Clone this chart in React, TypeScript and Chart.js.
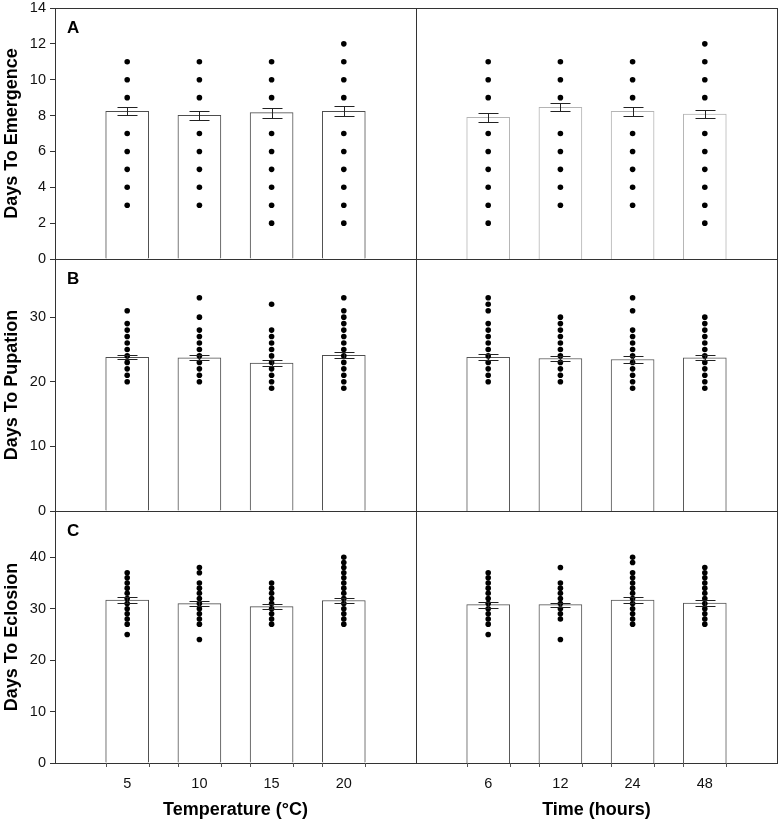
import React, { useEffect, useRef } from 'react';
import { Chart, registerables } from 'chart.js';

Chart.register(...registerables);

const FONT = '"Liberation Sans", Arial, Helvetica, sans-serif';

// Treatment levels
const temperatureLabels = ['5', '10', '15', '20'];
const timeLabels = ['6', '12', '24', '48'];

// A: days to emergence (means, standard errors, individual observations)
const emergenceTempMeans = [8.24, 8.01, 8.16, 8.24];
const emergenceTempSems = [0.23, 0.25, 0.27, 0.27];
const emergenceTempDots = [
  [3, 4, 5, 6, 7, 9, 10, 11],
  [3, 4, 5, 6, 7, 9, 10, 11],
  [2, 3, 4, 5, 6, 7, 9, 10, 11],
  [2, 3, 4, 5, 6, 7, 9, 10, 11, 12],
];
const emergenceTimeMeans = [7.9, 8.46, 8.24, 8.09];
const emergenceTimeSems = [0.26, 0.22, 0.25, 0.23];
const emergenceTimeDots = [
  [2, 3, 4, 5, 6, 7, 9, 10, 11],
  [3, 4, 5, 6, 7, 9, 10, 11],
  [3, 4, 5, 6, 7, 9, 10, 11],
  [2, 3, 4, 5, 6, 7, 9, 10, 11, 12],
];

// B: days to pupation
const pupationTempMeans = [23.8, 23.7, 22.9, 24.1];
const pupationTempSems = [0.35, 0.38, 0.4, 0.45];
const pupationTempDots = [
  [20, 21, 22, 23, 24, 25, 26, 27, 28, 29, 31],
  [20, 21, 22, 23, 24, 25, 26, 27, 28, 30, 33],
  [19, 20, 21, 22, 23, 24, 25, 26, 27, 28, 32],
  [19, 20, 21, 22, 23, 24, 25, 26, 27, 28, 29, 30, 31, 33],
];
const pupationTimeMeans = [23.8, 23.6, 23.45, 23.7];
const pupationTimeSems = [0.45, 0.33, 0.5, 0.38];
const pupationTimeDots = [
  [20, 21, 22, 23, 24, 25, 26, 27, 28, 29, 31, 32, 33],
  [20, 21, 22, 23, 24, 25, 26, 27, 28, 29, 30],
  [19, 20, 21, 22, 23, 24, 25, 26, 27, 28, 31, 33],
  [19, 20, 21, 22, 23, 24, 25, 26, 27, 28, 29, 30],
];

// C: days to eclosion
const eclosionTempMeans = [31.7, 31.0, 30.4, 31.6];
const eclosionTempSems = [0.5, 0.55, 0.45, 0.5];
const eclosionTempDots = [
  [25, 27, 28, 29, 30, 31, 32, 33, 34, 35, 36, 37],
  [24, 27, 28, 29, 30, 31, 32, 33, 34, 35, 37, 38],
  [27, 28, 29, 30, 31, 32, 33, 34, 35],
  [27, 28, 29, 30, 31, 32, 33, 34, 35, 36, 37, 38, 39, 40],
];
const eclosionTimeMeans = [30.8, 30.8, 31.7, 31.1];
const eclosionTimeSems = [0.6, 0.4, 0.55, 0.55];
const eclosionTimeDots = [
  [25, 27, 28, 29, 30, 31, 32, 33, 34, 35, 36, 37],
  [24, 28, 29, 30, 31, 32, 33, 34, 35, 38],
  [27, 28, 29, 30, 31, 32, 33, 34, 35, 36, 37, 39, 40],
  [27, 28, 29, 30, 31, 32, 33, 34, 35, 36, 37, 38],
];

// Axis ranges and titles
const yMaxByRow = [14, 39, 49];
const yStepByRow = [2, 10, 10];
const yTitles = ['Days To Emergence', 'Days To Pupation', 'Days To Eclosion'];
const panelLetters = ['A', 'B', 'C'];
const xTitles = ['Temperature (°C)', 'Time (hours)'];

type PanelSpec = {
  row: number;
  col: number;
  labels: string[];
  means: number[];
  sems: number[];
  dots: number[][];
  barBorder: string;
};

const panels: PanelSpec[] = [
  { row: 0, col: 0, labels: temperatureLabels, means: emergenceTempMeans, sems: emergenceTempSems, dots: emergenceTempDots, barBorder: '#4d4d4d' },
  { row: 0, col: 1, labels: timeLabels, means: emergenceTimeMeans, sems: emergenceTimeSems, dots: emergenceTimeDots, barBorder: '#b4b4b4' },
  { row: 1, col: 0, labels: temperatureLabels, means: pupationTempMeans, sems: pupationTempSems, dots: pupationTempDots, barBorder: '#4d4d4d' },
  { row: 1, col: 1, labels: timeLabels, means: pupationTimeMeans, sems: pupationTimeSems, dots: pupationTimeDots, barBorder: '#555555' },
  { row: 2, col: 0, labels: temperatureLabels, means: eclosionTempMeans, sems: eclosionTempSems, dots: eclosionTempDots, barBorder: '#4d4d4d' },
  { row: 2, col: 1, labels: timeLabels, means: eclosionTimeMeans, sems: eclosionTimeSems, dots: eclosionTimeDots, barBorder: '#555555' },
];

// Canvas placement per column / row
const colBoxes = [
  { left: 0, width: 420, padLeft: 0, padRight: 4 },
  { left: 410, width: 370, padLeft: 6, padRight: 3 },
];
const rowBoxes = [
  { top: 0, height: 268, padTop: 8, padBottom: 9 },
  { top: 250, height: 270, padTop: 9, padBottom: 9 },
  { top: 502, height: 320, padTop: 9, padBottom: 0 },
];

const framePlugin = {
  id: 'panelFrame',
  afterDraw(chart: any) {
    const { ctx, chartArea: a } = chart;
    ctx.save();
    ctx.strokeStyle = '#333';
    ctx.lineWidth = 1;
    const l = Math.round(a.left) + 0.5;
    const t = Math.round(a.top) + 0.5;
    ctx.strokeRect(l, t, Math.round(a.right) - Math.round(a.left), Math.round(a.bottom) - Math.round(a.top));
    ctx.restore();
  },
};

function makeErrorBarPlugin(means: number[], sems: number[]) {
  return {
    id: 'semBars',
    afterDatasetsDraw(chart: any) {
      const { ctx, scales } = chart;
      const xs = scales.x;
      const ys = scales.y;
      ctx.save();
      ctx.strokeStyle = '#222';
      ctx.lineWidth = 1;
      means.forEach((m, i) => {
        const x = Math.round(xs.getPixelForValue(i + 1)) + 0.5;
        const yHi = Math.round(ys.getPixelForValue(m + sems[i])) + 0.5;
        const yLo = Math.round(ys.getPixelForValue(m - sems[i])) + 0.5;
        ctx.beginPath();
        ctx.moveTo(x, yHi);
        ctx.lineTo(x, yLo);
        ctx.moveTo(x - 10, yHi);
        ctx.lineTo(x + 10, yHi);
        ctx.moveTo(x - 10, yLo);
        ctx.lineTo(x + 10, yLo);
        ctx.stroke();
      });
      ctx.restore();
    },
  };
}

function makeLetterPlugin(letter: string | null) {
  return {
    id: 'panelLetter',
    afterDraw(chart: any) {
      if (!letter) return;
      const { ctx, chartArea: a } = chart;
      ctx.save();
      ctx.fillStyle = '#000';
      ctx.font = `bold 17px ${FONT}`;
      ctx.textBaseline = 'top';
      ctx.textAlign = 'left';
      ctx.fillText(letter, a.left + 12, a.top + 12);
      ctx.restore();
    },
  };
}

// Short marks below the baseline at each bar edge
const barEdgeTicks = {
  id: 'barEdgeTicks',
  afterDraw(chart: any) {
    const meta = chart.getDatasetMeta(1);
    const { ctx, chartArea: a } = chart;
    ctx.save();
    ctx.strokeStyle = '#555';
    ctx.lineWidth = 1;
    meta.data.forEach((el: any) => {
      const half = el.width / 2;
      [el.x - half, el.x + half].forEach((ex) => {
        const x = Math.round(ex) + 0.5;
        ctx.beginPath();
        ctx.moveTo(x, a.bottom);
        ctx.lineTo(x, a.bottom + 4);
        ctx.stroke();
      });
    });
    ctx.restore();
  },
};

function Panel({ spec }: { spec: PanelSpec }) {
  const ref = useRef<HTMLCanvasElement>(null);
  const cb = colBoxes[spec.col];
  const rb = rowBoxes[spec.row];

  useEffect(() => {
    if (!ref.current) return;
    const isLeft = spec.col === 0;
    const isBottom = spec.row === 2;

    const dotPoints: { x: number; y: number }[] = [];
    spec.dots.forEach((vals, i) => vals.forEach((v) => dotPoints.push({ x: i + 1, y: v })));

    const plugins: any[] = [framePlugin, makeErrorBarPlugin(spec.means, spec.sems), makeLetterPlugin(isLeft ? panelLetters[spec.row] : null)];
    if (isBottom) plugins.push(barEdgeTicks);

    const chart = new Chart(ref.current, {
      type: 'bar',
      data: {
        datasets: [
          {
            type: 'scatter',
            data: dotPoints,
            backgroundColor: '#000',
            borderWidth: 0,
            pointRadius: 2.8,
            pointHoverRadius: 2.8,
            order: 0,
          } as any,
          {
            type: 'bar',
            data: spec.means.map((m, i) => ({ x: i + 1, y: m })),
            backgroundColor: '#ffffff',
            borderColor: spec.barBorder,
            borderWidth: 1,
            barThickness: 43,
            order: 1,
          } as any,
        ],
      },
      options: {
        responsive: false,
        animation: false,
        devicePixelRatio: 1,
        events: [],
        layout: {
          padding: { left: cb.padLeft, right: cb.padRight, top: rb.padTop, bottom: rb.padBottom },
        },
        plugins: {
          legend: { display: false },
          tooltip: { enabled: false },
        },
        scales: {
          x: {
            type: 'linear',
            min: 0,
            max: 5,
            offset: false,
            display: isBottom,
            grid: { display: false, drawTicks: false, offset: false },
            border: { display: false },
            ticks: {
              stepSize: 1,
              padding: 12,
              autoSkip: false,
              maxRotation: 0,
              color: '#111',
              font: { family: FONT, size: 14.5 },
              callback: (v: any) => spec.labels[Number(v) - 1] ?? '',
            },
            title: {
              display: isBottom,
              text: xTitles[spec.col],
              color: '#000',
              font: { family: FONT, size: 18, weight: 'bold' },
              padding: { top: 0, bottom: 1 },
            },
            afterFit: (scale: any) => {
              if (isBottom) scale.height = 59;
              scale.paddingLeft = 0;
              scale.paddingRight = 0;
            },
          },
          y: {
            type: 'linear',
            min: 0,
            max: yMaxByRow[spec.row],
            display: isLeft,
            grid: { drawOnChartArea: false, drawTicks: true, tickLength: 5, color: '#333' },
            border: { display: false },
            ticks: {
              stepSize: yStepByRow[spec.row],
              includeBounds: false,
              padding: 4,
              color: '#111',
              font: { family: FONT, size: 14.5 },
            },
            title: {
              display: isLeft,
              text: yTitles[spec.row],
              color: '#000',
              font: { family: FONT, size: 18, weight: 'bold' },
              padding: { top: 1, bottom: 0 },
            },
            afterFit: (scale: any) => {
              if (isLeft) scale.width = 55;
              scale.paddingTop = 0;
              scale.paddingBottom = 0;
            },
          },
        } as any,
      },
      plugins,
    });
    return () => chart.destroy();
  }, []);

  return (
    <div style={{ position: 'absolute', left: cb.left, top: rb.top, width: cb.width, height: rb.height }}>
      <canvas ref={ref} width={cb.width} height={rb.height} style={{ display: 'block', width: cb.width, height: rb.height }} />
    </div>
  );
}

export default function App() {
  return (
    <div style={{ position: 'absolute', left: 0, top: 0, width: 780, height: 822, background: '#fff' }}>
      {panels.map((p) => (
        <Panel key={`${p.row}-${p.col}`} spec={p} />
      ))}
    </div>
  );
}
